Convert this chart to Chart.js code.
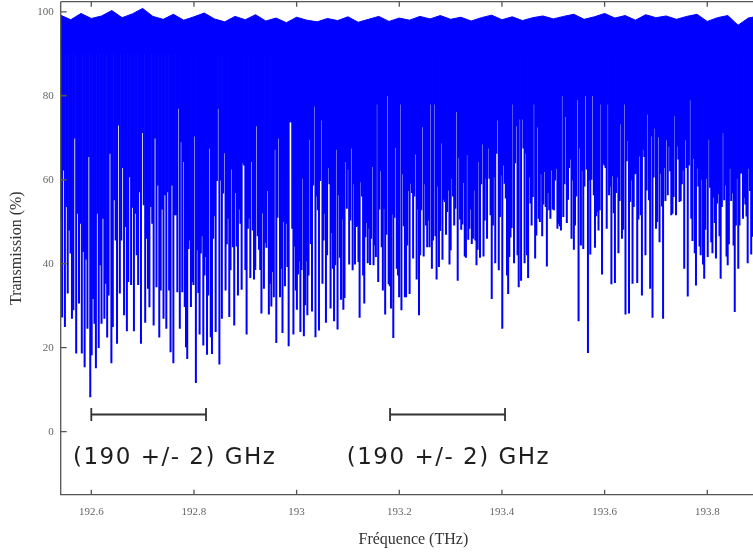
<!DOCTYPE html>
<html><head><meta charset="utf-8">
<script src="https://cdn.jsdelivr.net/npm/chart.js@4.4.1/dist/chart.umd.min.js"></script>
<style>
html,body{margin:0;padding:0;overflow:hidden;background:#fff;width:753px;height:552px}
#wrap{position:absolute;left:0;top:0;width:766px;height:552px}
</style>
</head><body><div id="wrap"><canvas id="c" width="766" height="552"></canvas></div>
<script>
// Frequency bounds (THz) of the six read-off segments
const segBounds = [192.5390, 192.7640, 192.9881, 193.2121, 193.4361, 193.6601, 193.8890];

// Minimum transmission (%) of each resonance, read left to right per segment
const seg1 = [51,27.3,62.3,25,53.6,33,48,42.5,27,29,69.9,18.7,52,30.6,49.6,18.7,42.9,15.4,41.1,24.6,65.5,8.3,18.3,31.7,25.8,15.2,52,20,39.7,25.8,50.8,27,35.3,22.5,32.5,66.3,16.4,25,55.2,45.6,21,73,33,45.6,62.9,27.8,48.8,24,35.7,60.7,35,53.4,24,52,42.1,35,57.1,21,71.2,54,26,46,34.1,29.7,53.6,49.6,25.4,69.9,34.5,58.7,22.5,33.7,53,27,56.4,24.6,57.1,33.7,19,58.7,16.4,51.6];
const seg2 = [51.6,33.3,77,24.6,69,33.3,64.3,29.8,20.2,17.4,43.6,45.6,29.8,35.7,35,70.4,11.7,43.3,33.1,23.2,42.5,46.6,20.6,37.3,41.7,18.4,32.5,67.5,22.6,18.6,46,51.4,23.8,59.8,77,16.1,59.9,27,56.8,66.4,33.7,44.7,50.8,27.4,38.5,62.5,44,25.4,56.9,44.2,32.5,53,49.6,33.9,64,63.5,38.6,23.2,48.4,50.8,36.7,64.3,48,36.3,38.6,72.8,46.6,43.4,38.6,28.2,52.1,34.1,45,43.9,57.4,28,35.3,29.9,38.1,32.1,67.2,21.2,51,69.9,32.1,38.9,23.6,50,34.7,49.6,39.3,20.4,73.8];
const seg3 = [73.8,48.4,23.2,44.2,33.7,29.1,37.5,40.7,23.8,38.6,60.3,22.8,30.2,40.7,27.8,37.3,69.6,44.8,28.7,58.7,77.5,22.6,56.1,52.8,24.2,59.8,74.2,35.3,45.6,52,26,42.1,62.9,59,29.4,47.4,38.9,26.4,39.7,67.2,24.4,56.4,41.5,31.5,50.6,29.1,31.9,64.3,53.2,62.5,39.9,50.4,67.5,38.5,59,39.9,48.8,49,40.5,27.2,59.5,56.1,37.3,30.6,46.4,49.8,40.2,48.4,39.8,46,63.1,39.7,44.4,41.7,78,35.7,53,62.1,44,33.7,53.2,28,47,80,35.2,34.7,29.4,51.8,22.4,51,67.7,38.9,37.3,32.1,78,29,61.4,49,32.1];
const seg4 = [32.1,44.4,57.4,32.9,59.1,56.9,41.3,56.1,66.1,36.3,53,27.8,42.1,52.8,72.6,41.8,59,49.2,44,50.4,44,78,38.9,45.6,78,46.6,36.3,58.5,39.3,47.9,68.7,41,55.3,54.8,47,52.4,57.5,39.9,43.3,60.3,56.1,49.2,53.2,76.2,36,65.3,50.6,48.2,49.4,59.3,41.8,41.5,65.9,45.8,48.4,53,44.8,46,57.5,45.6,39.7,43.4,64.3,41.5,59,68.5,41.8,50.4,60.3,46,67.5,60.3,51.6,31.7,49.2,60.7,40.2,66.3,74.2,38.5,51.2,61.1,24.6,63.5,59.1,55.6,37.3,32.9,41.7,46.3,48.6,78,40.2,64,72.8,42.1,34.5,74.4];
const seg5 = [36,74.4,67.5,40.2,66.3,42.1,36.7,60.7,54.4,49.2,56,78,41.3,46.8,72.5,50.8,50,61.4,46.6,54.2,61.9,53.6,39.4,56.9,52.8,50.8,62.3,53,52.8,59.9,62.7,48.4,49.6,49,48,80,51.2,59,75,49.8,55.3,62.9,64.9,46,59.9,43.4,49.2,56.1,79,26.4,67.5,44.4,62.1,43.6,58.5,80,62.5,18.8,59.9,42.3,60.1,80,56.4,43.9,51.4,52.4,48,52.8,78,37.5,63.9,63.5,62.9,48.4,78,56.4,58.5,35.2,60.9,52.1,35.5,56.9,60.7,42.6,55,73.3,46,48.2,78,28,64.5,69.3,28.2,54.8,59.9,35.3,53.6,61.4];
const seg6 = [61.5,35.5,50.6,65.6,51.6,32.5,67.2,65.5,42.1,57.5,75.6,55.2,34.1,70.4,27.2,60.6,72.2,48.4,50,70.2,45.2,61.5,53.7,27,62.9,55,69.5,56.4,68,62.1,51.6,52,56,75.2,51.6,68,64.9,54.8,55,59,62.3,38.9,69.5,62.9,32.3,63.5,79,50.8,45.5,65.1,42.6,34.9,62.7,58.5,44.2,42.1,60.1,39.9,36.5,48.2,60.3,41.7,69.6,58.2,45.2,42.6,55.8,49.8,41.3,54.4,56.6,46.6,36.5,53.6,71.2,55.2,58.7,41.8,39.7,44.7,62.7,55,56.8,44.4,28.6,49.2,60.3,38.9,49.2,61.5,61.7,50.8,55.8,54.2,51.3,40.2,62.7,57.4,42.3,46.5];

// Upper envelope of the transmission maxima
const peakFreq = [192.54,192.56,192.58,192.60,192.62,192.64,192.66,192.68,192.70,192.72,192.74,192.76,192.78,192.80,192.82,192.84,192.86,192.88,192.90,192.92,192.94,192.96,192.98,193.00,193.02,193.04,193.06,193.08,193.10,193.12,193.14,193.16,193.18,193.20,193.22,193.24,193.26,193.28,193.30,193.32,193.34,193.36,193.38,193.40,193.42,193.44,193.46,193.48,193.50,193.52,193.54,193.56,193.58,193.60,193.62,193.64,193.66,193.68,193.70,193.72,193.74,193.76,193.78,193.80,193.82,193.84,193.86,193.88,193.90,193.92];
const peakVal = [99.2,98.1,99.6,98.4,99.0,100.3,98.6,99.5,100.8,98.9,98.2,99.4,98.0,98.8,99.7,98.3,97.6,98.9,98.1,99.3,97.8,98.5,97.4,98.7,98.0,97.6,98.4,97.9,98.8,97.5,98.2,98.9,97.7,98.5,98.0,98.9,98.3,99.1,98.2,98.7,97.8,98.6,99.2,98.1,98.8,97.9,98.6,99.0,98.3,98.9,99.4,98.2,98.8,99.6,98.5,99.1,98.0,99.3,98.6,99.0,98.2,98.9,99.4,97.7,98.6,99.1,96.8,98.5,99.0,98.4];

const xTicks = [192.6, 192.8, 193, 193.2, 193.4, 193.6, 193.8];
const yTicks = [0, 20, 40, 60, 80, 100];

// Annotation: (190 +/- 2) GHz spans
const spanStart = [192.6, 193.182];
const spanEnd = [192.8235, 193.406];
const spanLevel = [4.1, 4.1];
const spanLabel = ['(190 +/- 2) GHz', '(190 +/- 2) GHz'];
const labelFreq = [192.5643, 193.0976];
const labelLevel = [-7.8, -7.8];

const barTop = 93;

const segments = [seg1, seg2, seg3, seg4, seg5, seg6];
const dips = [];
segments.forEach((seg, s) => {
  const a = segBounds[s], b = segBounds[s + 1];
  seg.forEach((v, i) => dips.push({x: a + (i + 0.5) * (b - a) / seg.length, y: [v, barTop]}));
});

const frame = {
  id: 'frame',
  afterDraw(chart) {
    const {ctx, chartArea: a, scales: {x, y}} = chart;
    ctx.save();
    ctx.strokeStyle = '#555';
    ctx.lineWidth = 1.3;
    ctx.beginPath();
    ctx.moveTo(a.left, a.top); ctx.lineTo(a.right, a.top);
    ctx.moveTo(a.left, a.top); ctx.lineTo(a.left, a.bottom); ctx.lineTo(a.right, a.bottom);
    xTicks.forEach(v => {
      const px = x.getPixelForValue(v);
      ctx.moveTo(px, a.bottom); ctx.lineTo(px, a.bottom - 5);
      ctx.moveTo(px, a.top); ctx.lineTo(px, a.top + 5);
    });
    yTicks.forEach(v => {
      const py = y.getPixelForValue(v);
      ctx.moveTo(a.left, py); ctx.lineTo(a.left + 6, py);
    });
    ctx.stroke();
    ctx.restore();
  }
};

const labels = {
  id: 'labels',
  afterDatasetsDraw(chart) {
    const {ctx, scales: {x, y}} = chart;
    ctx.save();
    ctx.font = '23px "DejaVu Sans"';
    try { ctx.letterSpacing = '1.5px'; } catch (e) {}
    ctx.fillStyle = '#1e1e1e';
    ctx.textBaseline = 'alphabetic';
    ctx.textAlign = 'left';
    spanLabel.forEach((t, i) => ctx.fillText(t, x.getPixelForValue(labelFreq[i]), y.getPixelForValue(labelLevel[i])));
    ctx.restore();
  }
};

const spanDataset = i => ({
  type: 'line', label: 'span' + i,
  data: [{x: spanStart[i], y: spanLevel[i]}, {x: spanEnd[i], y: spanLevel[i]}],
  borderColor: '#333', borderWidth: 1.8, fill: false,
  pointStyle: 'line', pointRotation: 90, pointRadius: 6.6, pointHoverRadius: 6.6,
  pointBorderColor: '#333', pointBorderWidth: 1.8, order: 0
});

const noPad = s => { s.paddingTop = 0; s.paddingBottom = 0; s.paddingLeft = 0; s.paddingRight = 0; };

new Chart(document.getElementById('c'), {
  type: 'bar',
  data: {
    datasets: [
      spanDataset(0), spanDataset(1),
      {type: 'line', label: 'peaks', data: peakFreq.map((f, i) => ({x: f, y: peakVal[i]})),
       borderColor: '#0000ff', borderWidth: 1, pointRadius: 0, tension: 0,
       fill: {value: 90}, backgroundColor: '#0000ff', order: 2},
      {type: 'bar', label: 'Transmission', data: dips, backgroundColor: '#0000ff',
       barThickness: 1.35, grouped: false, borderWidth: 0, borderSkipped: false, order: 3}
    ]
  },
  options: {
    responsive: false, animation: false, devicePixelRatio: 1,
    layout: {autoPadding: false, padding: {top: 1.7, left: 0, right: 0, bottom: 0}},
    plugins: {legend: {display: false}, tooltip: {enabled: false}},
    scales: {
      x: {
        type: 'linear', min: 192.5404, max: 193.9144, offset: false,
        grid: {display: false, drawTicks: false}, border: {display: false},
        afterBuildTicks: s => { s.ticks = xTicks.map(v => ({value: v})); },
        afterFit: s => { s.height = 57.3; noPad(s); },
        ticks: {font: {family: 'Liberation Serif', size: 11}, color: '#666', padding: 11,
                maxRotation: 0, autoSkip: false, callback: v => String(v)},
        title: {display: true, text: 'Fréquence (THz)', font: {family: 'Liberation Serif', size: 16},
                color: '#333', padding: {top: 0, bottom: 2.4}}
      },
      y: {
        min: -15, max: 102.4,
        grid: {display: false, drawTicks: false}, border: {display: false},
        afterBuildTicks: s => { s.ticks = yTicks.map(v => ({value: v})); },
        afterFit: s => { s.width = 60.7; noPad(s); },
        ticks: {font: {family: 'Liberation Serif', size: 11}, color: '#666', padding: 7,
                callback: v => String(v)},
        title: {display: true, text: 'Transmission (%)', font: {family: 'Liberation Serif', size: 16},
                color: '#333', padding: {top: 7.4, bottom: 0}}
      }
    }
  },
  plugins: [frame, labels]
});
</script>
</body></html>
